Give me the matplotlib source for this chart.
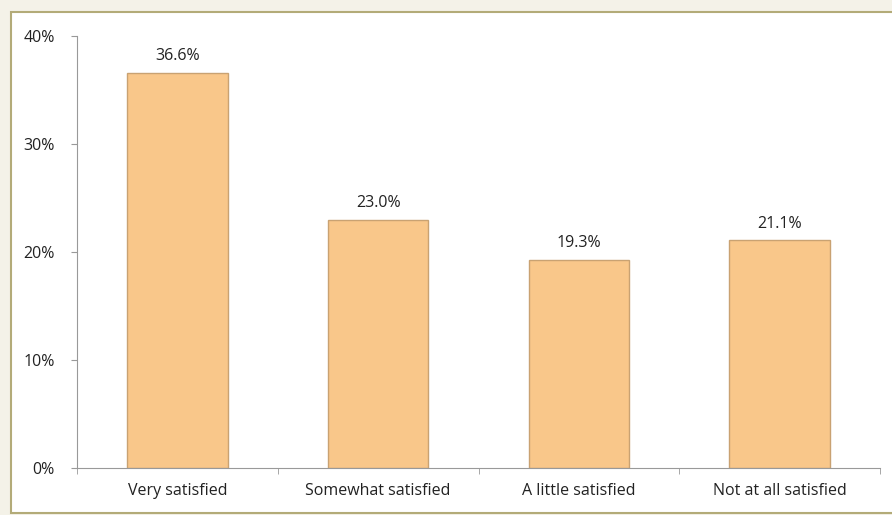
import matplotlib.pyplot as plt
from matplotlib.patches import Rectangle
from matplotlib.ticker import FixedLocator, FuncFormatter

categories = ["Very satisfied", "Somewhat satisfied", "A little satisfied", "Not at all satisfied"]
values = [36.6, 23.0, 19.3, 21.1]
yticks = [0, 10, 20, 30, 40]

plt.rcParams['font.family'] = ['Open Sans', 'DejaVu Sans']

fig = plt.figure(figsize=(8.92, 5.15), dpi=100, facecolor='#f4f2e8')

# white panel with olive frame
fig.patches.append(Rectangle((11/892, 2/515), 1.0, 501/515, transform=fig.transFigure,
                             facecolor='white', edgecolor='#b3ab78', linewidth=1.5, zorder=-5))

ax = fig.add_axes([77/892, 47/515, 803/892, 432/515])
ax.set_facecolor('none')

x = range(len(categories))
ax.bar(x, values, width=0.5, color='#f9c78a', edgecolor='#c9a272', linewidth=1)

for i, v in enumerate(values):
    ax.annotate(f"{v:.1f}%", (i, v), xytext=(0, 6), textcoords='offset points',
                ha='center', va='bottom', fontsize=11.5, color='#222222')

ax.set_xlim(-0.5, len(categories) - 0.5)
ax.set_ylim(0, 40)
ax.set_yticks(yticks)
ax.yaxis.set_major_formatter(FuncFormatter(lambda v, p: f"{v:.0f}%"))

ax.set_xticks(list(x))
ax.set_xticklabels(categories, fontsize=11.5, color='#222222')
ax.tick_params(axis='x', which='major', length=0, pad=11)
ax.xaxis.set_minor_locator(FixedLocator([i - 0.5 for i in range(len(categories) + 1)]))
ax.tick_params(axis='x', which='minor', length=4, color='#999999', direction='out')
ax.tick_params(axis='y', length=4, color='#999999', labelsize=11.5, labelcolor='#222222', pad=12)

for s in ['top', 'right']:
    ax.spines[s].set_visible(False)
for s in ['left', 'bottom']:
    ax.spines[s].set_color('#999999')

fig.savefig('out.png', dpi=100, facecolor=fig.get_facecolor())
